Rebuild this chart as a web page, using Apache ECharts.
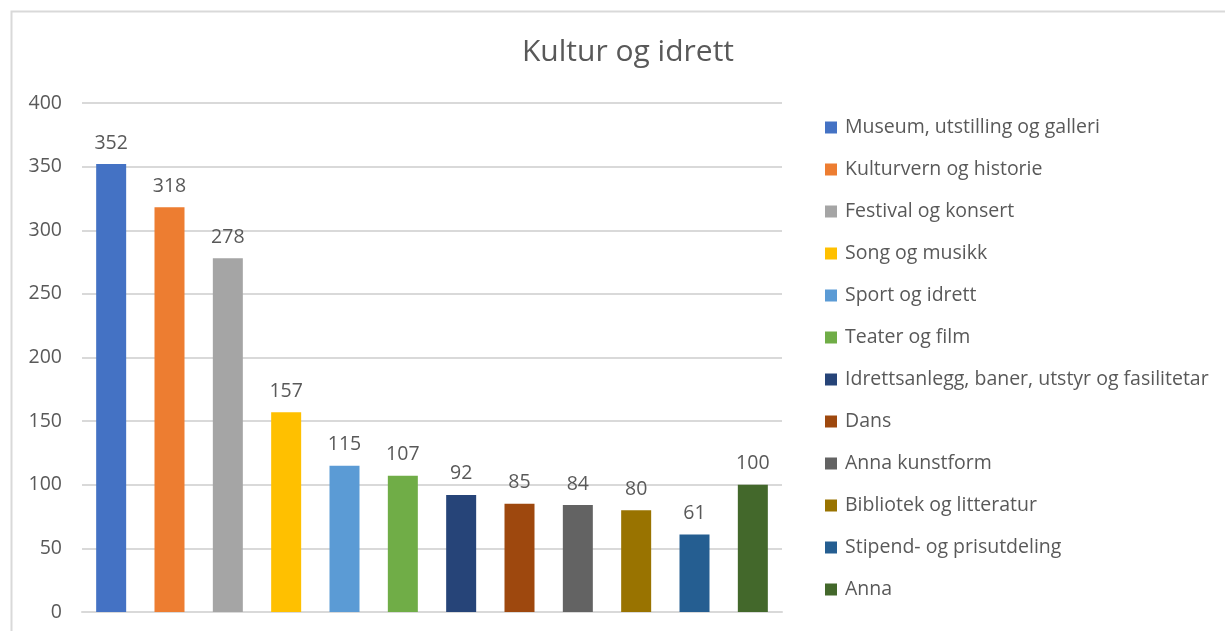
<!DOCTYPE html>
<html><head><meta charset="utf-8">
<script src="https://cdn.jsdelivr.net/npm/echarts@6/dist/echarts.min.js"></script>
<style>html,body{margin:0;padding:0;background:#fff}#c{width:1225px;height:631px}</style>
</head><body><div id="c"></div>
<script>
const title = 'Kultur og idrett';
const categories = ['Museum, utstilling og galleri','Kulturvern og historie','Festival og konsert','Song og musikk','Sport og idrett','Teater og film','Idrettsanlegg, baner, utstyr og fasilitetar','Dans','Anna kunstform','Bibliotek og litteratur','Stipend- og prisutdeling','Anna'];
const values = [352,318,278,157,115,107,92,85,84,80,61,100];
const colors = ['#4472C4','#ED7D31','#A5A5A5','#FFC000','#5B9BD5','#70AD47','#264478','#9E480E','#636363','#997300','#255E91','#43682B'];
const yTicks = {min:0,max:400,interval:50};

const FONT = 'Open Sans';
const series = categories.map((name,i)=>({
  name, type:'bar', stack:'all', barWidth:30,
  itemStyle:{color:colors[i]},
  data: categories.map((_,j)=> j===i ? values[i] : null),
  label:{show:true,position:'top',distance:11,color:'#595959',fontSize:19.5,fontFamily:FONT},
  emphasis:{disabled:true}
}));
const chart = echarts.init(document.getElementById('c'),null,{renderer:'canvas'});
chart.setOption({
  animation:false,
  backgroundColor:'#fff',
  title:{text:title,left:623,textAlign:'center',top:32,textStyle:{fontFamily:FONT,fontSize:30,fontWeight:'normal',color:'#595959'}},
  grid:{left:82,right:1225-782,top:103,bottom:631-612,containLabel:false},
  xAxis:{type:'category',data:categories,axisLabel:{show:false},axisTick:{show:false},
    axisLine:{show:true,lineStyle:{color:'#d9d9d9',width:2}}},
  yAxis:{type:'value',min:yTicks.min,max:yTicks.max,interval:yTicks.interval,
    axisLine:{show:false},axisTick:{show:false},
    axisLabel:{color:'#595959',fontSize:19.5,fontFamily:FONT,margin:20},
    splitLine:{lineStyle:{color:'#d9d9d9',width:2}}},
  legend:{orient:'vertical',left:820,top:112,itemWidth:12,itemHeight:12,itemGap:21,icon:'rect',
    textStyle:{color:'#595959',fontSize:19.5,fontFamily:FONT,lineHeight:21,padding:[0,0,0,3]},
    selectedMode:false},
  graphic:[{type:'rect',shape:{x:11.5,y:11.5,width:1300,height:700},style:{fill:'none',stroke:'#d9d9d9',lineWidth:2},silent:true,z:-1}],
  series
});
</script></body></html>
